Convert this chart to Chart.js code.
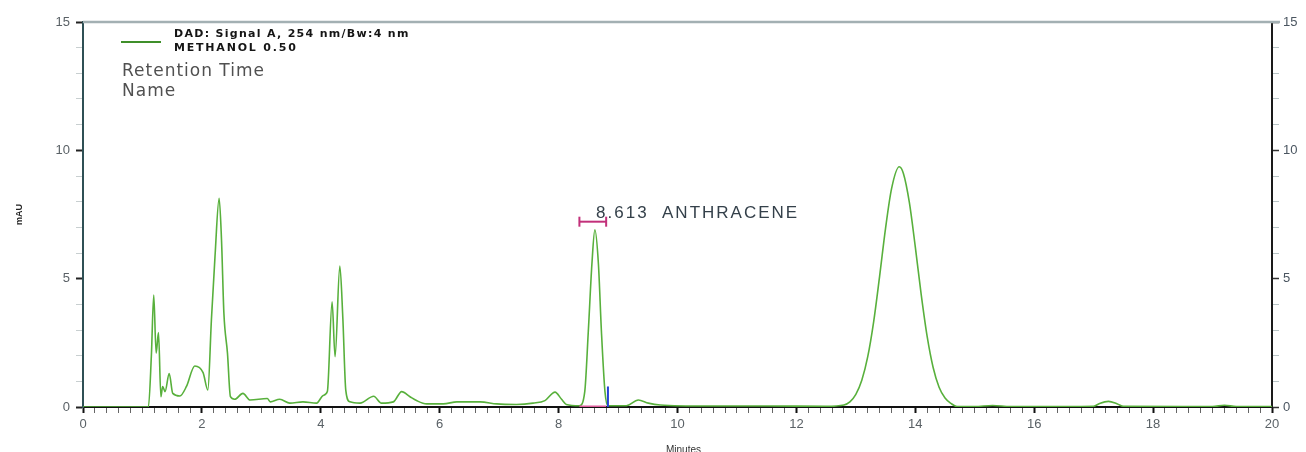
<!DOCTYPE html>
<html>
<head>
<meta charset="utf-8">
<script src="https://cdn.jsdelivr.net/npm/chart.js@4/dist/chart.umd.min.js"></script>
<style>
  html, body { margin: 0; padding: 0; background: #fff; }
  #wrap { width: 1306px; height: 452px; }
</style>
</head>
<body>
<div id="wrap"><canvas id="chromatogram"></canvas></div>
<script>
// retention time (min) and detector signal (mAU)
var retentionTimes = [0, 1.10, 1.15, 1.19, 1.23, 1.27, 1.31, 1.34, 1.38, 1.45, 1.51, 1.63, 1.74, 1.88, 2.02, 2.10, 2.16, 2.22, 2.29, 2.33, 2.37, 2.43, 2.48, 2.55, 2.69, 2.81, 3.10, 3.15, 3.31, 3.48, 3.70, 3.93, 4.04, 4.11, 4.19, 4.24, 4.32, 4.37, 4.42, 4.49, 4.66, 4.89, 5.02, 5.22, 5.36, 5.50, 5.61, 5.78, 6.06, 6.29, 6.68, 6.96, 7.29, 7.57, 7.77, 7.94, 8.05, 8.13, 8.35, 8.44, 8.50, 8.56, 8.61, 8.67, 8.72, 8.78, 8.83, 9.14, 9.34, 9.51, 9.71, 10.5, 11.5, 12.5, 12.8, 12.9, 13.0, 13.1, 13.2, 13.3, 13.4, 13.5, 13.6, 13.73, 13.8, 13.9, 14.0, 14.1, 14.2, 14.3, 14.4, 14.5, 14.6, 14.7, 15.0, 15.3, 15.6, 16.5, 17.0, 17.1, 17.25, 17.4, 17.5, 19.0, 19.2, 19.4, 20];
var signalMau = [0, 0, 2.0, 4.36, 2.1, 2.9, 0.4, 0.8, 0.6, 1.3, 0.53, 0.43, 0.8, 1.6, 1.34, 0.66, 3.4, 5.85, 8.13, 6.5, 3.65, 2.1, 0.4, 0.3, 0.53, 0.27, 0.33, 0.2, 0.3, 0.15, 0.2, 0.15, 0.45, 0.6, 4.1, 1.96, 5.49, 3.5, 0.66, 0.2, 0.15, 0.42, 0.15, 0.2, 0.6, 0.4, 0.25, 0.12, 0.12, 0.2, 0.2, 0.12, 0.1, 0.15, 0.25, 0.58, 0.3, 0.1, 0.05, 0.6, 2.96, 5.56, 6.9, 5.56, 2.96, 0.6, 0.05, 0.05, 0.27, 0.15, 0.08, 0.04, 0.04, 0.03, 0.08, 0.2, 0.49, 1.04, 1.96, 3.33, 5.1, 6.97, 8.5, 9.36, 9.1, 7.97, 6.24, 4.37, 2.74, 1.54, 0.77, 0.35, 0.14, 0.02, 0.02, 0.06, 0.02, 0.02, 0.03, 0.14, 0.22, 0.12, 0.03, 0.02, 0.07, 0.02, 0.02];

// integrated peak
var peakTime = 8.613;
var peakName = "ANTHRACENE";
var peakWindow = [8.35, 8.80];
var peakBarLevel = 7.22;
var peakEndMark = [8.83, 0.8];

var legendLines = ["DAD: Signal A, 254 nm/Bw:4 nm", "METHANOL 0.50"];
var annotationRows = ["Retention Time", "Name"];

var xRange = [0, 20];
var yRange = [0, 15];
var xMajor = 2;
var yMajor = 5;

function isMajor(v, step) {
  return Math.abs(v / step - Math.round(v / step)) < 1e-6;
}

var tracePoints = retentionTimes.map(function (t, i) { return { x: t, y: signalMau[i] }; });

var overlay = {
  id: 'overlay',
  afterDraw: function (chart) {
    var ctx = chart.ctx, a = chart.chartArea;
    var xs = chart.scales.x, ys = chart.scales.y;
    ctx.save();
    // top frame line
    ctx.strokeStyle = '#a3b0b3';
    ctx.lineWidth = 2.5;
    ctx.beginPath();
    ctx.moveTo(a.left, a.top);
    ctx.lineTo(a.right + 8, a.top);
    ctx.stroke();

    // legend
    ctx.strokeStyle = '#3f8f2a';
    ctx.lineWidth = 2;
    ctx.beginPath();
    ctx.moveTo(121, 42);
    ctx.lineTo(161, 42);
    ctx.stroke();
    ctx.textBaseline = 'middle';
    ctx.textAlign = 'left';
    ctx.fillStyle = '#151515';
    ctx.font = 'bold 11px "DejaVu Sans", sans-serif';
    ctx.letterSpacing = '1.3px';
    ctx.fillText(legendLines[0], 174, 34);
    ctx.letterSpacing = '1.8px';
    ctx.fillText(legendLines[1], 174, 48);
    ctx.fillStyle = '#505050';
    ctx.font = '17px "DejaVu Sans", sans-serif';
    ctx.letterSpacing = '1px';
    ctx.fillText(annotationRows[0], 122, 72);
    ctx.fillText(annotationRows[1], 122, 92);

    // peak label
    ctx.fillStyle = '#34404a';
    ctx.font = '17px "Liberation Sans", Arial, sans-serif';
    ctx.letterSpacing = '2px';
    ctx.fillText(peakTime.toFixed(3) + '  ' + peakName, xs.getPixelForValue(peakTime) + 1, ys.getPixelForValue(7.53));

    // x axis title
    ctx.letterSpacing = '0px';
    ctx.fillStyle = '#333';
    ctx.font = '10px "Liberation Sans", Arial, sans-serif';
    ctx.textAlign = 'center';
    ctx.fillText('Minutes', (a.left + a.right) / 2 + 6, 450);
    ctx.restore();
  }
};

new Chart(document.getElementById('chromatogram'), {
  type: 'line',
  data: {
    datasets: [{
      label: legendLines[0],
      data: tracePoints,
      borderColor: '#58b03c',
      borderWidth: 1.6,
      pointRadius: 0,
      cubicInterpolationMode: 'monotone',
      order: 2
    }, {
      label: 'window',
      data: peakWindow.map(function (t) { return { x: t, y: peakBarLevel }; }),
      borderColor: '#c2307a',
      borderWidth: 2,
      pointStyle: 'line',
      rotation: 90,
      pointRadius: 5,
      pointBorderColor: '#c2307a',
      pointBorderWidth: 2,
      order: 1
    }, {
      label: 'baseline',
      data: peakWindow.map(function (t) { return { x: t, y: 0 }; }),
      borderColor: '#dd5c9a',
      borderWidth: 3,
      pointRadius: 0,
      order: 1
    }, {
      label: 'end',
      data: [{ x: peakEndMark[0], y: 0 }, { x: peakEndMark[0], y: peakEndMark[1] }],
      borderColor: '#2742d6',
      borderWidth: 2,
      pointRadius: 0,
      order: 0
    }]
  },
  options: {
    responsive: true,
    maintainAspectRatio: false,
    animation: false,
    layout: { padding: { top: 22, left: 0, right: 0, bottom: 0 } },
    plugins: {
      legend: { display: false },
      tooltip: { enabled: false }
    },
    scales: {
      x: {
        type: 'linear',
        min: xRange[0],
        max: xRange[1],
        afterFit: function (s) { s.height = 45; },
        border: { color: '#111', width: 2 },
        grid: {
          drawOnChartArea: false,
          tickLength: 6,
          tickColor: function (c) { return isMajor(c.tick.value, xMajor) ? '#111' : '#666'; },
          tickWidth: function (c) { return isMajor(c.tick.value, xMajor) ? 2 : 1; }
        },
        ticks: {
          stepSize: 0.2,
          autoSkip: false,
          maxRotation: 0,
          padding: 4,
          color: '#5a6166',
          font: { size: 13, family: '"Liberation Sans", Arial, sans-serif' },
          callback: function (v) { return isMajor(v, xMajor) ? String(Math.round(v)) : ''; }
        }
      },
      y: {
        position: 'left',
        min: yRange[0],
        max: yRange[1],
        afterFit: function (s) { s.width = 83; },
        border: { color: '#2f5055', width: 2 },
        grid: {
          drawOnChartArea: false,
          tickLength: 7,
          tickColor: function (c) { return isMajor(c.tick.value, yMajor) ? '#222' : '#c8cfd0'; },
          tickWidth: function (c) { return isMajor(c.tick.value, yMajor) ? 2 : 1; }
        },
        ticks: {
          stepSize: 1,
          autoSkip: false,
          padding: 6,
          color: '#5a6166',
          font: { size: 13, family: '"Liberation Sans", Arial, sans-serif' },
          callback: function (v) { return isMajor(v, yMajor) ? String(Math.round(v)) : ''; }
        },
        title: {
          display: true,
          text: 'mAU',
          color: '#222',
          font: { size: 9, weight: 'bold', family: '"Liberation Sans", Arial, sans-serif' },
          padding: { top: 14, bottom: 0 }
        }
      },
      y2: {
        position: 'right',
        min: yRange[0],
        max: yRange[1],
        afterFit: function (s) { s.width = 34; },
        border: { color: '#1a1a1a', width: 2 },
        grid: {
          drawOnChartArea: false,
          tickLength: 7,
          tickColor: function (c) { return isMajor(c.tick.value, yMajor) ? '#333' : '#b8c4c6'; },
          tickWidth: function (c) { return isMajor(c.tick.value, yMajor) ? 1.5 : 1; }
        },
        ticks: {
          stepSize: 1,
          autoSkip: false,
          padding: 4,
          color: '#4a5560',
          font: { size: 13, family: '"Liberation Sans", Arial, sans-serif' },
          callback: function (v) { return isMajor(v, yMajor) ? String(Math.round(v)) : ''; }
        }
      }
    }
  },
  plugins: [overlay]
});
</script>
</body>
</html>
